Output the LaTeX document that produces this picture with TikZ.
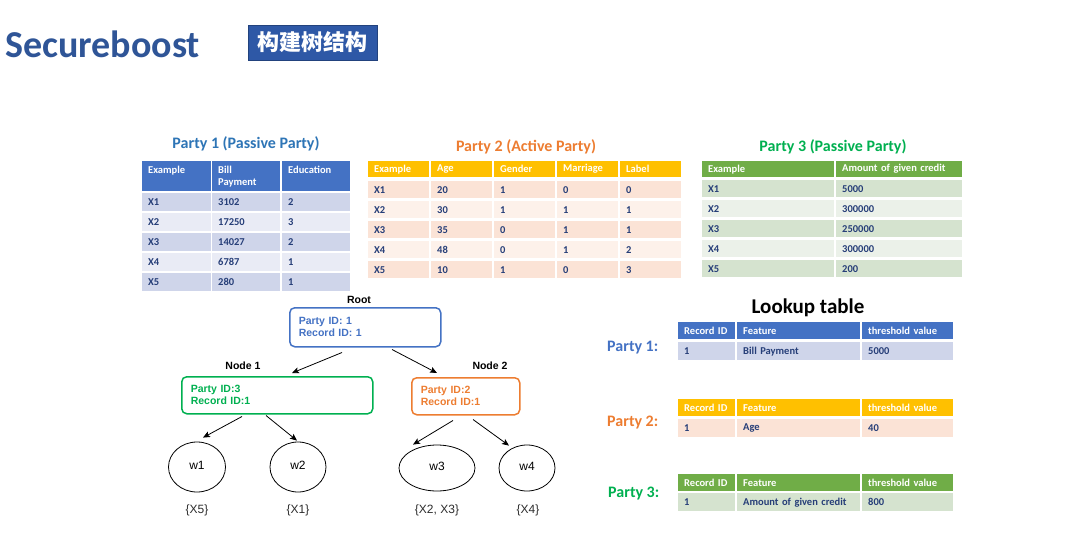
\documentclass[tikz,border=0pt]{standalone}
\usepackage{fontspec}
\setmainfont{Carlito}
\newfontfamily\calibri{Carlito}
\newfontfamily\arialf{Liberation Sans}
\newfontfamily\cjkf{Noto Sans CJK SC}
\usetikzlibrary{arrows.meta,calc,shapes.geometric}

\definecolor{titleblue}{RGB}{47,85,151}
\definecolor{badgeblue}{RGB}{46,88,166}
\definecolor{accblue}{HTML}{4472C4}
\definecolor{blueA}{HTML}{CFD5EA}
\definecolor{blueB}{HTML}{E9EBF5}
\definecolor{accgold}{HTML}{FFC000}
\definecolor{peachA}{HTML}{FBE3D6}
\definecolor{peachB}{HTML}{FDF1EA}
\definecolor{accgreen}{HTML}{70AD47}
\definecolor{greenA}{HTML}{D5E3CF}
\definecolor{greenB}{HTML}{EBF1E9}
\definecolor{celltxt}{RGB}{38,62,120}
\definecolor{p1blue}{HTML}{2E75B6}
\definecolor{p2orange}{HTML}{ED7D31}
\definecolor{p3green}{HTML}{00B050}
\definecolor{setgray}{RGB}{45,45,45}

\tikzset{
  cell/.style={anchor=north west, inner xsep=6pt, inner ysep=0pt, align=left,
    font=\fontsize{10.5}{12}\selectfont\calibri\bfseries, text=celltxt},
  head/.style={cell, text=white},
  ttl/.style={anchor=base, inner sep=0pt, font=\fontsize{16}{19}\selectfont\calibri\bfseries},
  plabel/.style={anchor=base west, inner sep=0pt, font=\fontsize{16}{19}\selectfont\calibri\bfseries},
  tbox/.style={anchor=north west, draw, line width=1.5pt, rounded corners=5pt,
    inner xsep=9pt, inner ysep=0pt, align=left,
    font=\fontsize{10.5}{12}\selectfont\arialf\bfseries},
  tlbl/.style={anchor=base, inner sep=0pt, font=\fontsize{10.5}{12}\selectfont\arialf\bfseries},
  leaf/.style={ellipse, draw, line width=0.8pt, inner sep=0pt,
    font=\fontsize{12}{14}\selectfont\arialf},
  setlbl/.style={inner sep=0pt, text=setgray, font=\fontsize{12}{14}\selectfont\arialf},
  arr/.style={-{Stealth[length=7pt,width=6pt,inset=1.5pt]}, line width=0.8pt},
}

\begin{document}
\begin{tikzpicture}[x=1pt,y=-1pt]
\path[use as bounding box, fill=white] (0,0) rectangle (1081,551);

% heading
\node[anchor=base west, inner sep=0pt, text=titleblue,
  font=\fontsize{38}{44}\selectfont\calibri\bfseries] (title) at (5,57) {Secureboost};
\node[fill=badgeblue, draw=badgeblue!75!black, line width=0.6pt, minimum width=129pt,
  minimum height=35pt, inner sep=0pt, text=white,
  font=\fontsize{22}{24}\selectfont\cjkf\bfseries] (badge) at (312.5,42.5) {构建树结构};

% ---------- Party 1 data ----------
\node[ttl, text=p1blue] (t1) at (246,148) {Party 1 (Passive Party)};
\node[head, fill=accblue, text width=57pt, minimum height=30pt] (p1-0-1) at (142,161) {Example\\\mbox{}};
\node[head, fill=accblue, text width=56pt, minimum height=30pt] (p1-0-2) at (212,161) {Bill\\Payment};
\node[head, fill=accblue, text width=56pt, minimum height=30pt] (p1-0-3) at (282,161) {Education\\\mbox{}};
\foreach \r/\y/\fc/\a/\b/\c in {1/193/blueA/X1/3102/2, 2/213/blueB/X2/17250/3,
    3/233/blueA/X3/14027/2, 4/253/blueB/X4/6787/1, 5/273/blueA/X5/280/1}{
  \node[cell, fill=\fc, text width=57pt, minimum height=18pt] (p1-\r-1) at (142,\y) {\a};
  \node[cell, fill=\fc, text width=56pt, minimum height=18pt] (p1-\r-2) at (212,\y) {\b};
  \node[cell, fill=\fc, text width=56pt, minimum height=18pt] (p1-\r-3) at (282,\y) {\c};
}

% ---------- Party 2 data ----------
\node[ttl, text=p2orange] (t2) at (526,151) {Party 2 (Active Party)};
\foreach \c/\x/\h in {1/368/Example, 2/431/Age, 3/494/Gender, 4/557/Marriage, 5/620/Label}{
  \node[head, fill=accgold, text width=49pt, minimum height=16pt] (p2-0-\c) at (\x,161) {\h};
}
\foreach \r/\y/\fc/\a/\b/\c/\d/\e in {1/181/peachA/X1/20/1/0/0, 2/201/peachB/X2/30/1/1/1,
    3/221/peachA/X3/35/0/1/1, 4/241/peachB/X4/48/0/1/2, 5/261/peachA/X5/10/1/0/3}{
  \node[cell, fill=\fc, text width=49pt, minimum height=17pt] (p2-\r-1) at (368,\y) {\a};
  \node[cell, fill=\fc, text width=49pt, minimum height=17pt] (p2-\r-2) at (431,\y) {\b};
  \node[cell, fill=\fc, text width=49pt, minimum height=17pt] (p2-\r-3) at (494,\y) {\c};
  \node[cell, fill=\fc, text width=49pt, minimum height=17pt] (p2-\r-4) at (557,\y) {\d};
  \node[cell, fill=\fc, text width=49pt, minimum height=17pt] (p2-\r-5) at (620,\y) {\e};
}

% ---------- Party 3 data ----------
\node[ttl, text=p3green] (t3) at (833,151) {Party 3 (Passive Party)};
\node[head, fill=accgreen, text width=120pt, minimum height=16pt] (p3-0-1) at (702,161) {Example};
\node[head, fill=accgreen, text width=114pt, minimum height=16pt] (p3-0-2) at (836,161) {Amount of given credit};
\foreach \r/\y/\fc/\a/\b in {1/180/greenA/X1/5000, 2/200/greenB/X2/300000,
    3/220/greenA/X3/250000, 4/240/greenB/X4/300000, 5/260/greenA/X5/200}{
  \node[cell, fill=\fc, text width=120pt, minimum height=17pt] (p3-\r-1) at (702,\y) {\a};
  \node[cell, fill=\fc, text width=114pt, minimum height=17pt] (p3-\r-2) at (836,\y) {\b};
}

% ---------- lookup tables ----------
\node[anchor=base, inner sep=0pt, font=\fontsize{21}{24}\selectfont\calibri\bfseries] (lookup) at (808,313) {Lookup table};
\node[plabel, text=accblue] (lp1) at (607,351) {Party 1:};
\node[plabel, text=p2orange] (lp2) at (607,426) {Party 2:};
\node[plabel, text=p3green] (lp3) at (608,497) {Party 3:};
\foreach \k/\hy/\ry/\hc/\rc/\f/\v in {1/322/342/accblue/blueA/Bill Payment/5000,
    2/399/419/accgold/peachA/Age/40, 3/474/493/accgreen/greenA/Amount of given credit/800}{
  \node[head, fill=\hc, text width=45pt, minimum height=17pt] (l\k-0-1) at (678,\hy) {Record ID};
  \node[head, fill=\hc, text width=111pt, minimum height=17pt] (l\k-0-2) at (737,\hy) {Feature};
  \node[head, fill=\hc, text width=79pt, minimum height=17pt] (l\k-0-3) at (862,\hy) {threshold value};
  \node[cell, fill=\rc, text width=45pt, minimum height=18pt] (l\k-1-1) at (678,\ry) {1};
  \node[cell, fill=\rc, text width=111pt, minimum height=18pt] (l\k-1-2) at (737,\ry) {\f};
  \node[cell, fill=\rc, text width=79pt, minimum height=18pt] (l\k-1-3) at (862,\ry) {\v};
}

% ---------- decision tree ----------
\node[tlbl] (rootlbl) at (359,303) {Root};
\node[tbox, draw=accblue, text=accblue, text width=133pt, minimum height=39pt] (root) at (289,307) {Party ID: 1\\Record ID: 1};
\node[tlbl] (n1lbl) at (243,369) {Node 1};
\node[tbox, draw=p3green, text=p3green, text width=173pt, minimum height=37pt] (n1) at (181,376) {Party ID:3\\Record ID:1};
\node[tlbl] (n2lbl) at (490,369) {Node 2};
\node[tbox, draw=p2orange, text=p2orange, text width=90pt, minimum height=37pt] (n2) at (411,377) {Party ID:2\\Record ID:1};

\node[leaf, minimum width=57pt, minimum height=50pt] (w1) at (197,467) {\raisebox{3pt}{w1}};
\node[leaf, minimum width=56pt, minimum height=50pt] (w2) at (298,467) {\raisebox{3pt}{w2}};
\node[leaf, minimum width=76pt, minimum height=46pt] (w3) at (437,468) {\raisebox{3pt}{w3}};
\node[leaf, minimum width=56pt, minimum height=46pt] (w4) at (527,468) {\raisebox{3pt}{w4}};

\node[setlbl] (s1) at (197,510) {\{X5\}};
\node[setlbl] (s2) at (298,510) {\{X1\}};
\node[setlbl] (s3) at (437,510) {\{X2, X3\}};
\node[setlbl] (s4) at (528,510) {\{X4\}};

\draw[arr] ($(root.south west)+(53,5)$) -- ($(n1.north west)+(111,-3)$);
\draw[arr] ($(root.south west)+(103,2)$) -- ($(n2.north west)+(26,-4)$);
\draw[arr] ($(n1.south west)+(61,2)$) -- ($(w1.north)+(6,-4)$);
\draw[arr] ($(n1.south west)+(85,1)$) -- ($(w2.north)+(-1,-1)$);
\draw[arr] ($(n2.south west)+(42,5)$) -- ($(w3.north)+(-24,0)$);
\draw[arr] ($(n2.south west)+(62,4)$) -- ($(w4.north)+(-18,1)$);
\end{tikzpicture}
\end{document}
